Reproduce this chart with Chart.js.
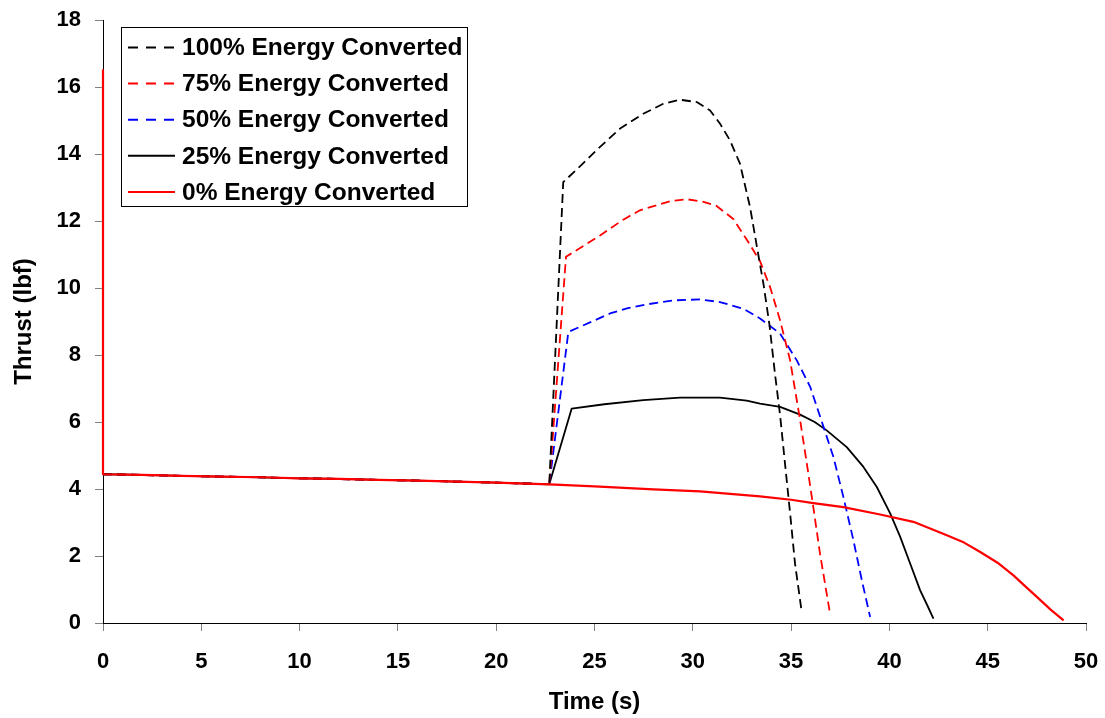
<!DOCTYPE html>
<html>
<head>
<meta charset="utf-8">
<script src="https://cdn.jsdelivr.net/npm/chart.js@4.4.1/dist/chart.umd.min.js"></script>
<style>
  html, body { margin: 0; padding: 0; background: #fff; }
  #wrap { width: 1105px; height: 718px; }
</style>
</head>
<body>
<div id="wrap"><canvas id="thrustChart" width="1105" height="718"></canvas></div>
<script>
// shared coast phase (all cases follow the same curve until ~22.7 s)
const baseTime   = [0, 2, 4, 6, 8, 10, 12, 14, 16, 18, 20, 22.7];
const baseThrust = [4.44, 4.42, 4.39, 4.37, 4.35, 4.32, 4.3, 4.27, 4.25, 4.22, 4.19, 4.14];

// 100% energy converted
const time100   = [23.41, 24.26, 25.19, 26.3, 27.48, 28.5, 29.35, 30.2, 30.88, 31.38, 31.89, 32.4, 32.91, 33.3, 33.6, 33.9, 34.18, 34.44, 34.69, 34.95, 35.2, 35.54];
const thrust100 = [13.16, 13.63, 14.16, 14.76, 15.2, 15.5, 15.62, 15.55, 15.3, 14.91, 14.41, 13.71, 12.42, 11.1, 10.1, 8.9, 7.44, 6.2, 4.76, 3.27, 1.77, 0.33];

// 75%
const time75   = [23.55, 25.28, 26.46, 27.31, 28.16, 28.9, 29.69, 30.5, 31.21, 32.06, 32.74, 33.42, 33.93, 34.44, 34.95, 35.46, 35.8, 36.13, 36.47, 36.98];
const thrust75 = [10.93, 11.57, 12.04, 12.32, 12.47, 12.6, 12.65, 12.58, 12.45, 12.06, 11.45, 10.8, 10.03, 9.04, 7.84, 6.05, 4.76, 3.46, 2.07, 0.28];

// 50%
const time50   = [23.67, 24.8, 25.79, 26.7, 27.65, 29.01, 30.37, 31.38, 32.57, 33.42, 34.44, 35.29, 35.97, 36.64, 37.15, 37.66, 38.17, 38.6, 39.02];
const thrust50 = [8.69, 8.98, 9.24, 9.4, 9.51, 9.63, 9.66, 9.58, 9.38, 9.09, 8.64, 7.84, 7.05, 5.87, 4.96, 3.76, 2.47, 1.27, 0.18];

// 25%
const time25   = [23.84, 25.5, 27.48, 29.35, 31.38, 32.74, 33.42, 34.44, 35.46, 36.2, 36.81, 37.83, 38.68, 39.36, 40.04, 40.55, 41.06, 41.56, 41.95, 42.24];
const thrust25 = [6.4, 6.53, 6.65, 6.73, 6.73, 6.64, 6.55, 6.45, 6.22, 6.0, 5.75, 5.25, 4.66, 4.06, 3.27, 2.57, 1.77, 0.98, 0.5, 0.13];

// 0% (ignition spike at t = 0, then the shared coast phase, then the tail)
const spikeTime = 0, spikeThrust = 16.5;
const time0   = [25, 28, 30.37, 33.42, 35, 36.13, 37.66, 39.53, 41.22, 42.92, 43.8, 44.62, 45.5, 46.31, 46.9, 47.5, 48.2, 48.86];
const thrust0 = [4.08, 3.99, 3.93, 3.78, 3.68, 3.58, 3.46, 3.24, 3.02, 2.62, 2.4, 2.12, 1.8, 1.42, 1.1, 0.78, 0.4, 0.08];

const labels = ['100% Energy Converted', '75% Energy Converted', '50% Energy Converted', '25% Energy Converted', '0% Energy Converted'];

function pts(t, f) {
    return t.map((x, i) => ({ x: x, y: f[i] }));
}
const basePts = pts(baseTime, baseThrust);

const FONT = '"Liberation Sans", Arial, sans-serif';

// legend drawn inside the plot, like the original
const boxLegend = {
    id: 'boxLegend',
    afterDraw(chart) {
        const c = chart.ctx;
        c.save();
        c.strokeStyle = '#000';
        c.lineWidth = 1;
        c.strokeRect(121.5, 27.5, 346, 179);
        c.font = 'bold 24.5px ' + FONT;
        c.textBaseline = 'middle';
        c.fillStyle = '#000';
        chart.data.datasets.forEach((ds, i) => {
            const y = 47.5 + i * 36.1;
            c.beginPath();
            c.strokeStyle = ds.borderColor;
            c.lineWidth = 2;
            c.setLineDash(ds.borderDash ? [10, 8] : []);
            c.moveTo(128, y);
            c.lineTo(175, y);
            c.stroke();
            c.setLineDash([]);
            c.fillText(ds.label, 182, y + 1);
        });
        c.restore();
    }
};

// fixed axis boxes so the plot sits where the original does
function noPad(s) {
    s.paddingTop = 0; s.paddingBottom = 0; s.paddingLeft = 0; s.paddingRight = 0;
}

const ctx = document.getElementById('thrustChart').getContext('2d');
new Chart(ctx, {
    type: 'line',
    data: {
        datasets: [
            { label: labels[0], data: basePts.concat(pts(time100, thrust100)), borderColor: '#000000', borderDash: [9, 5], borderWidth: 1.8 },
            { label: labels[1], data: basePts.concat(pts(time75, thrust75)), borderColor: '#ff0000', borderDash: [9, 5], borderWidth: 1.8 },
            { label: labels[2], data: basePts.concat(pts(time50, thrust50)), borderColor: '#0000ff', borderDash: [9, 5], borderWidth: 1.8 },
            { label: labels[3], data: basePts.concat(pts(time25, thrust25)), borderColor: '#000000', borderWidth: 1.8 },
            { label: labels[4], data: [{ x: spikeTime, y: spikeThrust }].concat(basePts, pts(time0, thrust0)), borderColor: '#ff0000', borderWidth: 2.2, order: -1, clip: 4 }
        ]
    },
    options: {
        responsive: false,
        animation: false,
        layout: { padding: { top: 20, right: 19, bottom: 0, left: 0 } },
        elements: { point: { radius: 0 }, line: { tension: 0, fill: false, borderJoinStyle: 'round' } },
        plugins: {
            legend: { display: false },
            tooltip: { enabled: false }
        },
        scales: {
            x: {
                type: 'linear',
                min: 0,
                max: 50,
                afterFit: s => { s.height = 95; noPad(s); },
                border: { color: '#000', width: 1 },
                grid: { drawOnChartArea: false, tickLength: 8, color: '#808080' },
                ticks: { stepSize: 5, padding: 18, color: '#000', font: { family: FONT, size: 22, weight: 'bold' } },
                title: { display: true, text: 'Time (s)', color: '#000', padding: { top: 0, bottom: 1 }, font: { family: FONT, size: 24, weight: 'bold' } }
            },
            y: {
                min: 0,
                max: 18,
                afterFit: s => { s.width = 103; noPad(s); },
                border: { color: '#000', width: 1 },
                grid: { drawOnChartArea: false, tickLength: 8, color: '#808080' },
                ticks: { stepSize: 2, padding: 14, color: '#000', font: { family: FONT, size: 22, weight: 'bold' } },
                title: { display: true, text: 'Thrust (lbf)', color: '#000', padding: { top: 10, bottom: 0 }, font: { family: FONT, size: 24, weight: 'bold' } }
            }
        }
    },
    plugins: [boxLegend]
});
</script>
</body>
</html>
